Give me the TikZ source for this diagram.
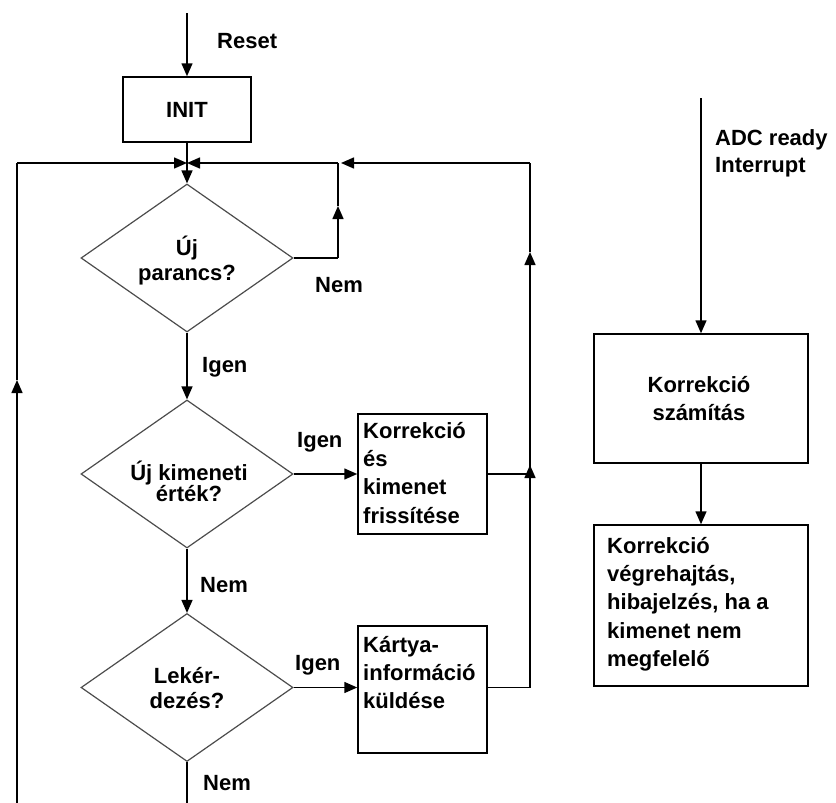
\documentclass[tikz,border=0pt]{standalone}
\usepackage{fontspec}
\setmainfont{Liberation Sans}
\usetikzlibrary{arrows.meta,shapes.geometric}
\begin{document}
\begin{tikzpicture}[x=1pt,y=-1pt,
  line/.style={line width=1.5pt,draw=black},
  arr/.style={line,-{Triangle[length=13pt,width=11pt]}},
  decision/.style={diamond,draw=black!70,line width=1.2pt,minimum width=212pt,
    minimum height=148pt,inner sep=0pt,aspect=1.43},
  procbox/.style={rectangle,draw=black,line width=1.5pt,inner sep=0pt},
  lbl/.style={inner sep=0pt,font=\bfseries\fontsize{22}{28.4}\selectfont},
  dlbl/.style={inner sep=0pt,font=\bfseries\fontsize{22}{25.5}\selectfont},
]
\useasboundingbox (0,0) rectangle (836,803);

% ---- main program flow ----
\coordinate (rs) at (187,13);
\node[procbox,minimum width=128pt,minimum height=65pt] (init) at (187,109.5) {};
\node[lbl,anchor=base] (initt) at (187,117) {INIT};
\node[lbl,anchor=base west] (lreset) at (217,48) {Reset};

\coordinate (j) at (187,163);

\node[decision] (d1) at (187,258) {};
\node[dlbl,anchor=base] (d1t) at (187,255) {\parbox[t]{190pt}{\centering Új\\parancs?}};

\node[decision] (d2) at (187,474) {};
\node[lbl,anchor=base] (d2t) at (189,480) {\parbox[t]{190pt}{\centering\fontsize{22}{21}\selectfont Új kimeneti\\érték?}};

\node[decision] (d3) at (187,687.5) {};
\node[dlbl,anchor=base] (d3t) at (187,683) {\parbox[t]{190pt}{\centering Lekér-\\dezés?}};

\node[procbox,minimum width=129pt,minimum height=120pt] (b1) at (422.5,474) {};
\node[lbl,anchor=base west] (b1t) at (363,438) {\parbox[t]{122pt}{\raggedright Korrekció\\és\\kimenet\\frissítése}};

\node[procbox,minimum width=129pt,minimum height=127pt] (b2) at (422.5,689.5) {};
\node[lbl,anchor=base west] (b2t) at (363,652) {\parbox[t]{122pt}{\raggedright Kártya-\\információ\\küldése}};

% ---- interrupt routine ----
\coordinate (adc) at (701,98);
\node[procbox,minimum width=214pt,minimum height=129pt] (b3) at (701,398.5) {};
\node[lbl,anchor=base] (b3t) at (699,392) {\parbox[t]{200pt}{\centering Korrekció\\számítás}};
\node[lbl,anchor=base west] (ladc) at (715,145) {\parbox[t]{120pt}{\raggedright\fontsize{22}{27}\selectfont ADC ready\\Interrupt}};

\node[procbox,minimum width=214pt,minimum height=161pt] (b4) at (701,605.5) {};
\node[lbl,anchor=base west] (b4t) at (607,553) {\parbox[t]{195pt}{\raggedright Korrekció\\végrehajtás,\\hibajelzés, ha a\\kimenet nem\\megfelelő}};

% ---- branch labels ----
\node[lbl,anchor=base west] (lnem1) at (315,292) {Nem};
\node[lbl,anchor=base west] (ligen1) at (202,372) {Igen};
\node[lbl,anchor=base west] (ligen2) at (297,447) {Igen};
\node[lbl,anchor=base west] (lnem2) at (200,592) {Nem};
\node[lbl,anchor=base west] (ligen3) at (295,670) {Igen};
\node[lbl,anchor=base west] (lnem3) at (203,790) {Nem};

% ---- helper points for the loops ----
\coordinate (n1) at (338,258);
\coordinate (n2) at (338,206);
\coordinate (n3) at (338,163);
\coordinate (r1) at (530,687.5);
\coordinate (r2) at (530,465);
\coordinate (r3) at (530,474);
\coordinate (r4) at (530,252);
\coordinate (r5) at (530,163);
\coordinate (r6) at (341,163);
\coordinate (l1) at (17,803);
\coordinate (l2) at (17,380);
\coordinate (l3) at (17,163);
\coordinate (out) at (187,803);

% ---- connectors ----
\draw[arr] (rs) -- (init.north);
\draw[line] (init.south) -- (j);
\draw[arr] (j) -- (d1.north);
\draw[arr] (d1.south) -- (d2.north);
\draw[arr] (d2.south) -- (d3.north);
\draw[line] (d3.south) -- (out);
\draw[arr] (d2.east) -- (d2.east -| b1.west);
\draw[arr] (d3.east) -- (d3.east -| b2.west);

% "Nem" loop of the first decision
\draw[line] (d1.east) -- (n1);
\draw[arr] (n1) -- (n2);
\draw[line] (n2) -- (n3);
\draw[arr] (n3) -- (j);

% return path from the two processing boxes
\draw[line] (d3.east -| b2.east) -- (r1);
\draw[arr] (r1) -- (r2);
\draw[line] (d2.east -| b1.east) -- (r3);
\draw[arr] (r3) -- (r4);
\draw[line] (r4) -- (r5);
\draw[arr] (r5) -- (r6);

% outer loop on the left
\draw[arr] (l1) -- (l2);
\draw[line] (l2) -- (l3);
\draw[arr] (l3) -- (j);

% interrupt routine
\draw[arr] (adc) -- (b3.north);
\draw[arr] (b3.south) -- (b4.north);
\end{tikzpicture}
\end{document}
